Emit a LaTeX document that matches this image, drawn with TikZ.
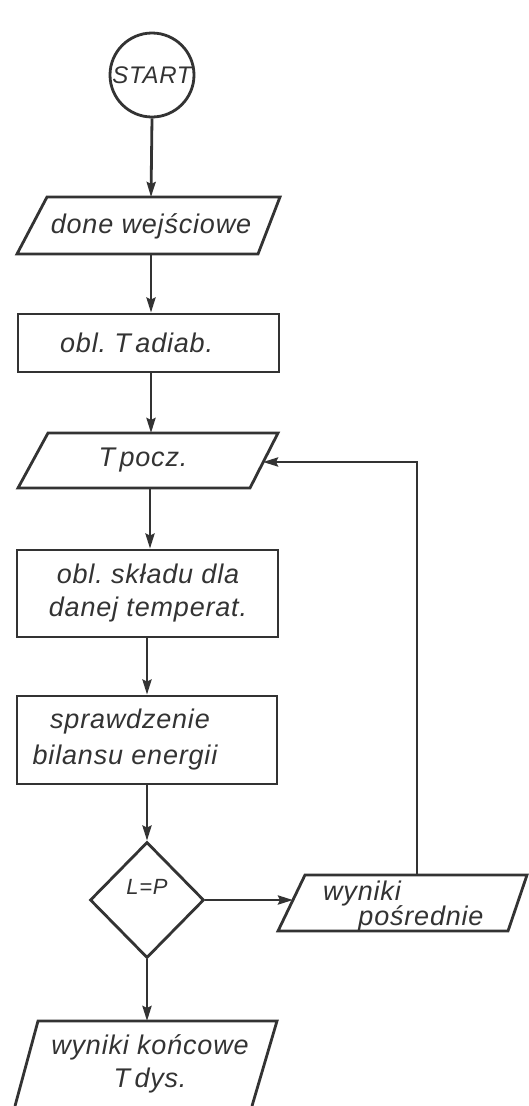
\documentclass[tikz,border=0pt]{standalone}
\usepackage{fontspec}
\setmainfont{Liberation Sans}[LetterSpace=3]
\usetikzlibrary{shapes.geometric,arrows.meta}
\definecolor{ink}{HTML}{333333}
\tikzset{
  txt/.style={font=\fontsize{27}{33}\selectfont\itshape, text=ink, inner sep=0pt, align=center},
  boxnode/.style={draw=ink, line width=2.8pt, rectangle, inner sep=0pt, minimum width=261pt},
  arr/.style={-{Stealth[length=15pt,width=9pt,inset=2pt]}},
  flow/.style={line width=2.8pt, draw=ink, line join=miter}
}
\begin{document}
\begin{tikzpicture}[x=1pt,y=-1pt]
\fill[white] (0,0) rectangle (529,1106);
\useasboundingbox (0,0) rectangle (529,1106);

% START
\node[circle, draw=ink, line width=2.8pt, minimum size=84pt, inner sep=0pt,
      font=\fontsize{24}{28}\selectfont\itshape, text=ink] (start) at (152,75) {START};

% done wejsciowe (parallelogram)
\draw[flow] (47,197) -- (280,197) -- (258,254) -- (17,254) -- cycle;
\coordinate (p1top) at (151,197);
\coordinate (p1bot) at (151,254);
\node[txt] (p1) at (151,226) {done wejściowe};

% obl. T adiab.
\node[boxnode, minimum height=58pt] (r1) at (148.5,343) {};
\node[txt, anchor=west] (r1t) at (60,343) {obl.\ T\,adiab.};

% T pocz. (parallelogram)
\draw[flow] (48,433) -- (278,433) -- (250,488) -- (18,488) -- cycle;
\coordinate (p2top) at (151,433);
\coordinate (p2bot) at (150,488);
\coordinate (p2right) at (263,462);
\node[txt] (p2) at (143,460) {T\,pocz.};

% obl. skladu dla danej temperat.
\node[boxnode, minimum height=87pt] (r2) at (147.5,593.5) {};
\node[txt] (r2t) at (148,593) {obl.\ składu dla\\danej temperat.};

% sprawdzenie bilansu energii
\node[boxnode, minimum height=88pt, minimum width=260pt] (r3) at (147,740) {};
\node[txt] (r3a) at (130,722) {sprawdzenie};
\node[txt] (r3b) at (125,758) {bilansu energii};

% decision
\node[diamond, draw=ink, line width=2.8pt, minimum width=114pt, minimum height=116pt, inner sep=0pt] (d) at (147,900) {};
\node[font=\fontsize{22}{24}\selectfont\itshape, text=ink, inner sep=0pt] (dt) at (147,887) {L=P};

% wyniki posrednie
\draw[flow] (305,875) -- (527,875) -- (508,931) -- (278,931) -- cycle;
\coordinate (wptop) at (417,875);
\coordinate (wpleft) at (293,900);
\coordinate (corner) at (417,462);
\node[txt] (wpa) at (362,894) {wyniki};
\node[txt] (wpb) at (421,918) {pośrednie};

% wyniki koncowe
\draw[flow] (15,1106) -- (38,1021) -- (277,1021) -- (252,1106);
\coordinate (fintop) at (147,1021);
\node[txt] (fin) at (150,1064) {wyniki końcowe\\T\,dys.};

% connectors
\draw[flow, arr] (start.south) -- (p1top);
\draw[flow, arr] (p1bot) -- (r1.north -| p1bot);
\draw[flow, arr] (r1.south -| p2top) -- (p2top);
\draw[flow, arr] (p2bot) -- (r2.north -| p2bot);
\draw[flow, arr] (r2.south -| d.north) -- (r3.north -| d.north);
\draw[flow, arr] (r3.south -| d.north) -- (d.north);
\draw[flow, arr] (d.south) -- (fintop);
\draw[flow, arr] (d.east) -- (wpleft);
\draw[flow, arr] (wptop) -- (corner) -- (p2right);
\end{tikzpicture}
\end{document}
